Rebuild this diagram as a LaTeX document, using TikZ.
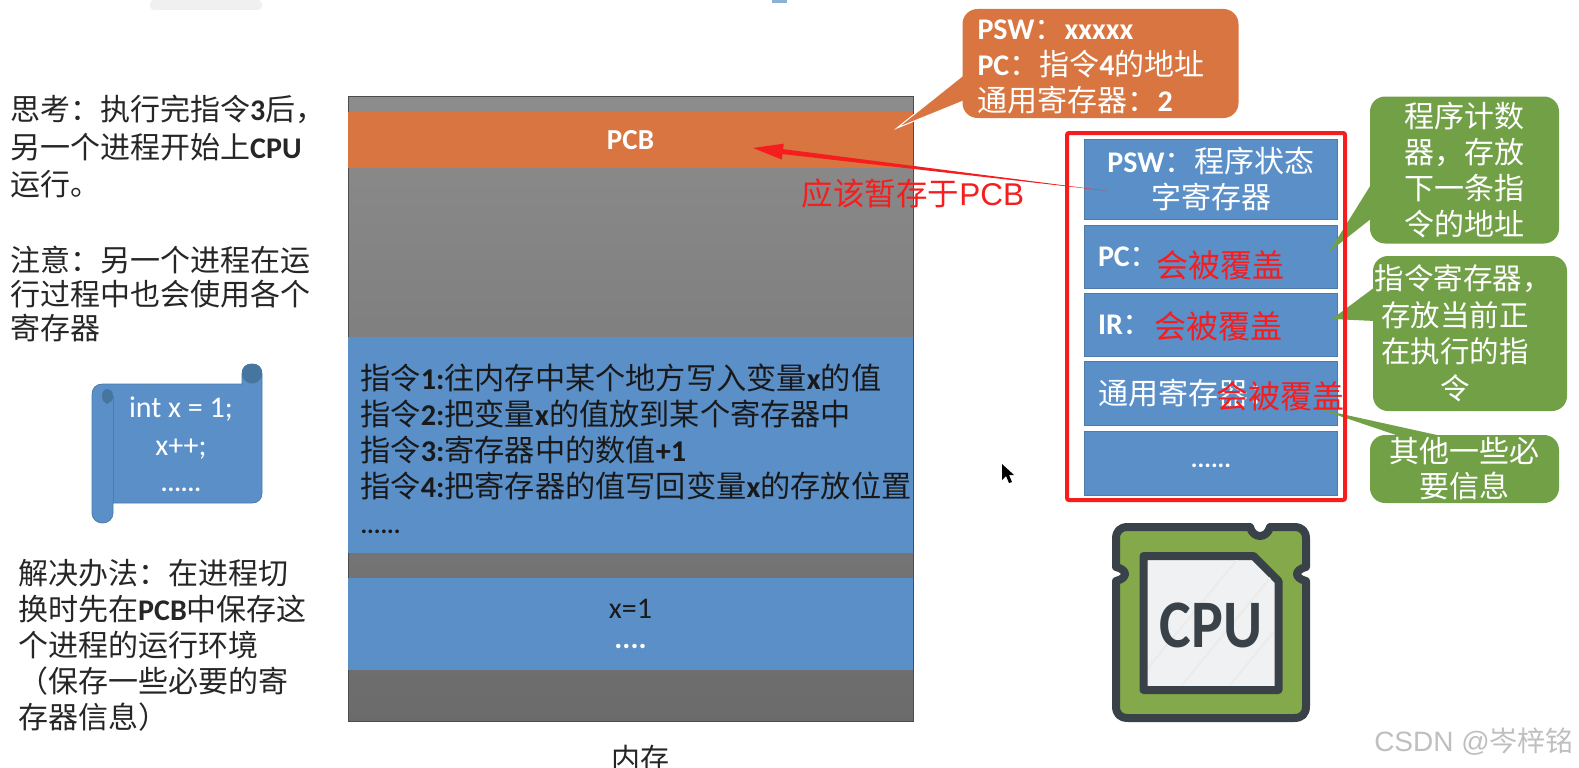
\documentclass[tikz,border=0pt]{standalone}
\usepackage{fontspec}
\usepackage{tikz}
\usetikzlibrary{calc}
\setmainfont{Noto Sans CJK SC}
\newfontfamily\latinfont{Carlito}
\newfontfamily\arialfont{Liberation Sans}
\newcommand{\lat}[1]{{\latinfont\bfseries #1}}
\newcommand{\smalldots}[1]{{\latinfont\bfseries\fontsize{25}{30}\selectfont #1}}
\definecolor{slideblue}{HTML}{5A8FC8}
\definecolor{slideedge}{HTML}{4F7BA6}
\definecolor{rolldark}{HTML}{46769F}
\definecolor{pcborange}{HTML}{D97540}
\definecolor{notegreen}{HTML}{72A046}
\definecolor{alertred}{HTML}{F51D1D}
\definecolor{chipdark}{HTML}{384248}
\definecolor{chipgreen}{HTML}{84A94A}
\definecolor{chipwhite}{HTML}{F0F1F2}
\tikzset{
  lefttext/.style={anchor=west,inner sep=0pt,align=left,text=black!85},
  memblock/.style={minimum width=565pt,inner sep=0pt,text=white},
  regbox/.style={fill=slideblue,draw=slideedge,line width=0.8pt,minimum width=252.5pt,
                 inner sep=0pt,text=white,font=\fontsize{30}{36}\selectfont},
  notebox/.style={fill=notegreen,rounded corners=15pt,inner sep=0pt,text=white,
                  font=\fontsize{30}{36}\selectfont,align=center},
  alerttext/.style={text=alertred,inner sep=0pt,font=\fontsize{32}{36}\selectfont}
}

\begin{document}
\begin{tikzpicture}[x=1pt,y=-1pt]
        \useasboundingbox (0,0) rectangle (1579,768);
        \fill[black!6,rounded corners=4pt] (150,0) rectangle (262,10);
        \fill[slideblue!70] (772,0) rectangle (787,3);

        \node[lefttext,font=\fontsize{30}{37.5}\selectfont] (think) at (10,147)
          {思考：执行完指令\lat{3}后，\\另一个进程开始上\lat{CPU}\\运行。};
        \node[lefttext,font=\fontsize{30}{34}\selectfont] (notice) at (10,294)
          {注意：另一个进程在运\\行过程中也会使用各个\\寄存器};
        \node[lefttext,font=\fontsize{30}{36}\selectfont] (solution) at (18,645)
          {解决办法：在进程切\\换时先在\lat{PCB}中保存这\\个进程的运行环境\\（保存一些必要的寄\\存器信息）};

        \filldraw[fill=slideblue,draw=slideedge,line width=0.8pt]
          (92,395) .. controls (92,388) and (96,384) .. (103,384) -- (242,384) -- (242,374)
          .. controls (242,367) and (246,364) .. (252,364) .. controls (258,364) and (262,367) .. (262,374)
          -- (262,493) .. controls (262,499) and (258,503) .. (252,503) -- (113,503) -- (113,513)
          .. controls (113,519) and (108,523) .. (102.5,523) .. controls (97,523) and (92,519) .. (92,513) -- cycle;
        \draw[slideedge,line width=0.8pt] (113,396) -- (113,503);
        \fill[rolldark] (113,396) .. controls (113,391) and (110,389) .. (107,389)
          .. controls (104,389) and (102,392) .. (102,396) .. controls (102,400) and (104,403) .. (107,404)
          .. controls (110,403) and (113,401) .. (113,396) -- cycle;
        \fill[rolldark] (242,376) .. controls (242,368) and (246,364) .. (252,364)
          .. controls (258,364) and (262,368) .. (262,376)
          .. controls (258,386) and (246,386) .. (242,376) -- cycle;
        \node[inner sep=0pt,text=white,align=center,font=\latinfont\fontsize{30}{38.5}\selectfont] (code) at (181,444)
          {int x = 1;\\x++;\\[-3pt]\smalldots{......}};

        \draw[black!70,line width=1pt,top color=black!45,bottom color=black!58] (348,96) rectangle (913,721);
        \node[memblock,fill=pcborange,minimum height=56pt,font=\latinfont\bfseries\fontsize{29}{36}\selectfont] (pcb) at (630.5,140) {PCB};
        \node[memblock,fill=slideblue,minimum height=216pt] (instr) at (630.5,445) {};
        \node[anchor=west,inner sep=0pt,align=left,text=black!90,font=\fontsize{30.2}{36}\selectfont] (instrtext) at ($(instr.west)+(12.5,4)$)
          {指令\lat{1:}往内存中某个地方写入变量\lat{x}的值\\指令\lat{2:}把变量\lat{x}的值放到某个寄存器中\\指令\lat{3:}寄存器中的数值\lat{+1}\\指令\lat{4:}把寄存器的值写回变量\lat{x}的存放位置\\\smalldots{......}};
        \node[memblock,fill=slideblue,minimum height=92pt,align=center,font=\latinfont\fontsize{30}{30}\selectfont] (xblock) at (630.5,624)
          {\textcolor{black!90}{x=1}\\\bfseries ....};
        \node[inner sep=0pt,text=black!85,font=\fontsize{29}{34}\selectfont] (memlabel) at (640,758) {内存};

        \node[regbox,minimum height=80pt,align=center] (psw) at (1211,179)
          {\lat{PSW}：程序状态\\字寄存器};
        \node[regbox,minimum height=63pt,text width=226pt,align=left] (pc) at (1211,256.5) {\lat{PC}：\\[20pt]};
        \node[regbox,minimum height=63pt,text width=226pt,align=left] (ir) at (1211,324.5) {\lat{IR}：\\[20pt]};
        \node[regbox,minimum height=64pt,text width=226pt,align=left] (general) at (1211,393) {通用寄存器：\\[16pt]};
        \node[regbox,minimum height=64pt] (rest) at (1211,463) {\raisebox{-9pt}{\smalldots{......}}};

        \coordinate (pctip) at (1329,252);
        \coordinate (irtip) at (1332,319);
        \coordinate (generaltip) at (1319,409);
        \coordinate (pcbtip) at (897,128);
        \fill[notegreen] (pctip) -- (1372,183) -- (1372,218) -- cycle;
        \fill[notegreen] (irtip) -- (1375,287) -- (1375,321) -- cycle;
        \fill[notegreen] (generaltip) -- (1402,437) -- (1446,437) -- cycle;
        \filldraw[fill=pcborange,draw=white,line width=1pt] (pcbtip) -- (966,73) -- (966,100) -- cycle;

        \node[notebox,minimum width=189pt,minimum height=147pt,text width=170pt] (pcnote) at (1464.5,170)
          {程序计数\\器，存放\\下一条指\\令的地址};
        \node[notebox,minimum width=194pt,minimum height=155pt] (irnote) at (1470,333.5) {};
        \node[inner sep=0pt,text=white,align=center,font=\fontsize{29.5}{36.5}\selectfont] (irnotetext) at ($(irnote.center)+(-15,0)$)
          {\hspace*{16pt}指令寄存器，\\存放当前正\\在执行的指\\令};
        \node[notebox,minimum width=189pt,minimum height=68pt,text width=170pt,font=\fontsize{30}{35}\selectfont] (generalnote) at (1464.5,469)
          {其他一些必\\要信息};
        \node[fill=pcborange,rounded corners=15pt,minimum width=276pt,minimum height=109pt,inner sep=0pt] (pcbnote) at (1100.5,63.5) {};
        \node[anchor=west,inner sep=0pt,align=left,text=white,font=\fontsize{30}{36}\selectfont] (pcbnotetext) at ($(pcbnote.west)+(15,3)$)
          {\lat{PSW}：\lat{xxxxx}\\\lat{PC}：指令\lat{4}的地址\\通用寄存器：\lat{2}};

        \draw[alertred,line width=4pt,rounded corners=2pt] (1067,133) rectangle (1345,500);
        \node[alerttext] (pcalert) at (1220,265) {会被覆盖};
        \node[alerttext] (iralert) at (1218,326) {会被覆盖};
        \node[alerttext] (generalalert) at (1280,396) {会被覆盖};

        \coordinate (arrowtail) at (1108,191);
        \coordinate (arrowtip) at (753,148);
        \coordinate (headbase) at ($(arrowtip)!30pt!(arrowtail)$);
        \fill[alertred] (arrowtail) -- ($(headbase)!2.5pt!90:(arrowtail)$) -- ($(headbase)!8pt!90:(arrowtail)$)
          -- (arrowtip) -- ($(headbase)!8pt!-90:(arrowtail)$) -- ($(headbase)!2.5pt!-90:(arrowtail)$) -- cycle;
        \node[inner sep=0pt,text=alertred,font=\fontsize{31.5}{36}\selectfont] (savelabel) at (913,194)
          {应该暂存于\arialfont PCB};

        \fill[black] (1002,464) -- (1002,480) -- (1006,476) -- (1009,483) -- (1012,482) -- (1009,475) -- (1014,475) -- cycle;

        \filldraw[fill=chipgreen,draw=chipdark,line width=8pt,line join=round]
          (1116,539) .. controls (1116,531) and (1120,527) .. (1128,527) -- (1250,527)
          .. controls (1253,539) and (1267,539) .. (1270,527) -- (1294,527)
          .. controls (1302,527) and (1306,531) .. (1306,539) -- (1306,567)
          .. controls (1294,570) and (1294,578) .. (1306,581) -- (1306,706)
          .. controls (1306,714) and (1302,718) .. (1294,718) -- (1128,718)
          .. controls (1120,718) and (1116,714) .. (1116,706) -- (1116,581)
          .. controls (1128,578) and (1128,570) .. (1116,567) -- cycle;
        \filldraw[fill=chipwhite,draw=chipdark,line width=8pt,line join=round]
          (1143.5,556) -- (1253.5,556) -- (1278.5,581) -- (1278.5,690) -- (1143.5,690) -- cycle;
        \begin{scope}
          \clip (1148,560) -- (1252,560) -- (1274,582) -- (1274,685) -- (1148,685) -- cycle;
          \foreach \shift in {0,48,96,144}
            \draw[black!8,line width=2pt] (1130+\shift,690) -- (1240+\shift,556);
        \end{scope}
        \node[inner sep=0pt,text=chipdark,xscale=0.88,font=\latinfont\bfseries\fontsize{68}{68}\selectfont] (cpulabel) at (1211,625) {CPU};

        \node[anchor=east,inner sep=0pt,text=black!25,font=\fontsize{28}{32}\selectfont] (watermark) at (1574,742)
          {\arialfont CSDN @\normalfont 岑梓铭};
      \end{tikzpicture}
\end{document}
